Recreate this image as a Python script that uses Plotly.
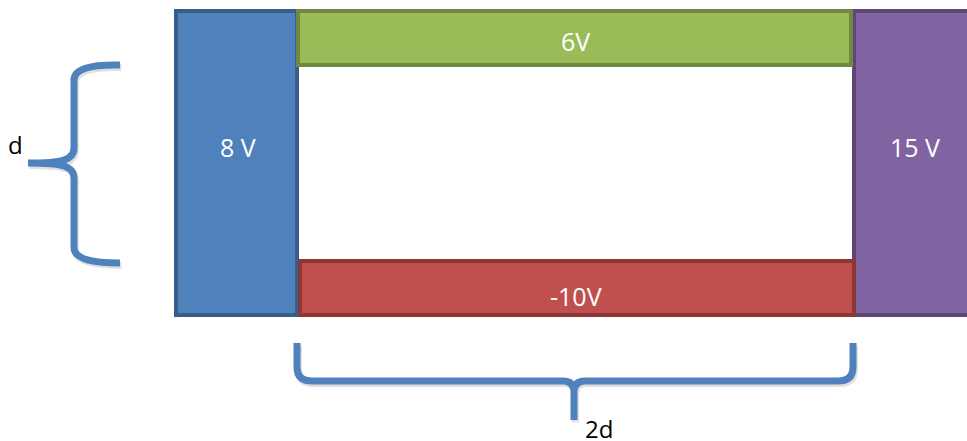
import re
import plotly.graph_objects as go

# ---- data ----
plate_names = ["left", "top", "bottom", "right"]
plate_voltages = [8, 6, -10, 15]
plate_labels = ["8 V", "6V", "-10V", "15 V"]
dimension_labels = ["d", "2d"]

# ---- layout constants (pixel-like diagram coordinates) ----
W, H = 967, 441
plate_boxes = {
    "left":   (176, 11, 297, 315),
    "right":  (854, 11, 985, 315),
    "top":    (298, 11, 851, 65),
    "bottom": (300, 261, 854, 315),
}
plate_fill = {"left": "#4F81BD", "top": "#9BBB59", "bottom": "#C0504D", "right": "#8064A2"}
plate_line = {"left": "#385D8A", "top": "#71893F", "bottom": "#8C3836", "right": "#5C4776"}
label_pos = {"left": (238, 147), "top": (575, 41), "bottom": (576, 296), "right": (915, 147)}
draw_order = ["left", "right", "top", "bottom"]

brace_color = "#4F81BD"
left_brace = ("M120,65 Q74,64 74,80 L74,148 C74,160 62,163 28,163 "
              "M28,163 C62,163 74,166 74,178 L74,248 Q74,263 120,263")
bottom_brace = ("M297,343 L297,367 Q297,381 312,381 L563,381 Q574,381 574,392 L574,420 "
                "M574,392 Q574,381 585,381 L838,381 Q853,381 853,367 L853,343")

fig = go.Figure()
shapes = []


def shift(m):
    x, y = float(m.group(1)), float(m.group(2))
    return f"{x+1.5},{y+2.5}"


for p in (left_brace, bottom_brace):
    sp = re.sub(r"(-?\d+\.?\d*),(-?\d+\.?\d*)", shift, p)
    shapes.append(dict(type="path", path=sp, xref="x", yref="y",
                       line=dict(color="rgba(0,0,0,0.12)", width=7), layer="above"))
for p in (left_brace, bottom_brace):
    shapes.append(dict(type="path", path=p, xref="x", yref="y",
                       line=dict(color=brace_color, width=7), layer="above"))

for name in draw_order:
    x0, y0, x1, y1 = plate_boxes[name]
    shapes.append(dict(type="rect", x0=x0, y0=y0, x1=x1, y1=y1, xref="x", yref="y",
                       fillcolor=plate_fill[name], line=dict(color=plate_line[name], width=4),
                       layer="above"))

annotations = []
for name, lab in zip(plate_names, plate_labels):
    x, y = label_pos[name]
    annotations.append(dict(x=x, y=y, xref="x", yref="y", text=lab, showarrow=False,
                            font=dict(family="Open Sans", size=25, color="white"),
                            xanchor="center", yanchor="middle"))

annotations.append(dict(x=15, y=144, xref="x", yref="y", text=dimension_labels[0], showarrow=False,
                        font=dict(family="Open Sans", size=24, color="black"),
                        xanchor="center", yanchor="middle"))
annotations.append(dict(x=599, y=428, xref="x", yref="y", text=dimension_labels[1], showarrow=False,
                        font=dict(family="Open Sans", size=24, color="black"),
                        xanchor="center", yanchor="middle"))

fig.update_layout(
    width=W, height=H,
    margin=dict(l=0, r=0, t=0, b=0),
    paper_bgcolor="white", plot_bgcolor="white",
    xaxis=dict(range=[0, W], visible=False, fixedrange=True),
    yaxis=dict(range=[H, 0], visible=False, fixedrange=True),
    shapes=shapes, annotations=annotations, showlegend=False,
)
fig.write_html(
    "out.html",
    config={"displayModeBar": False},
    post_script="document.body.style.margin='0';document.body.style.overflow='hidden';",
)
